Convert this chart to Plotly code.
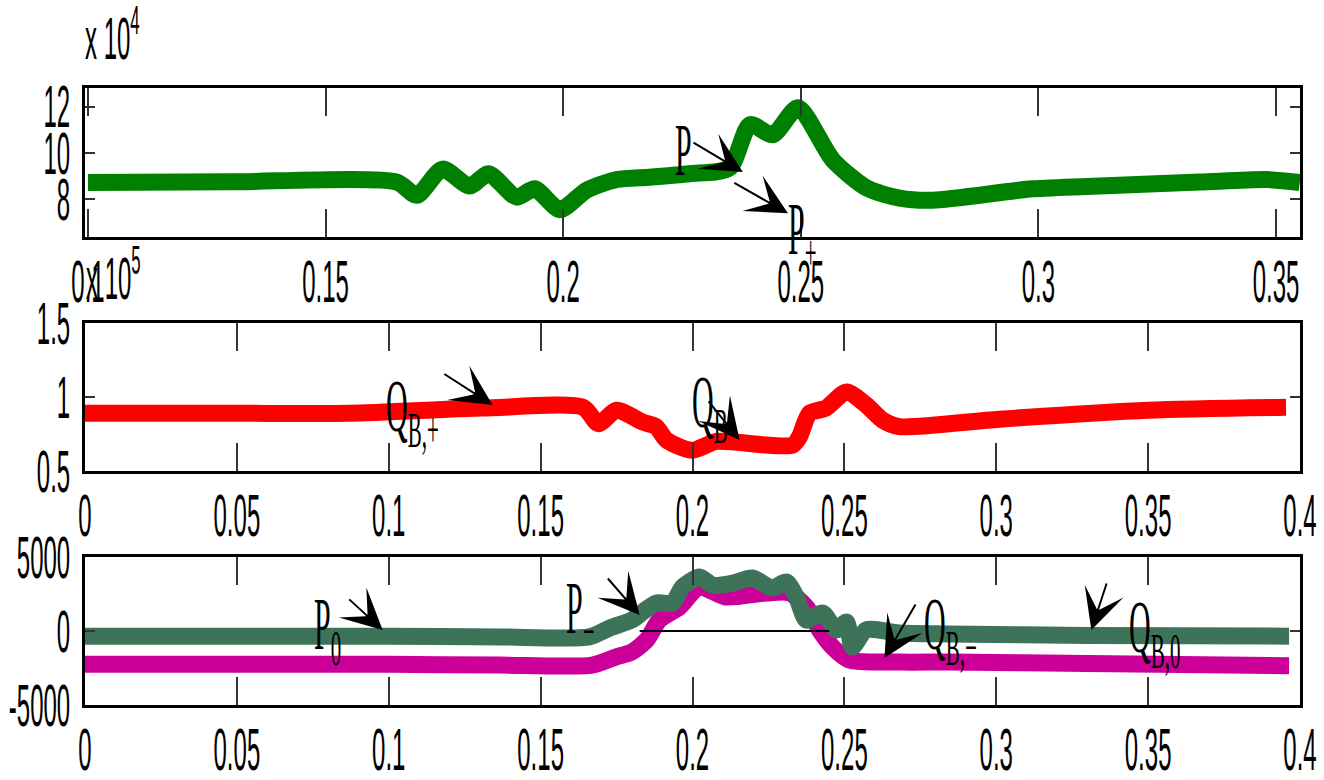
import plotly.graph_objects as go

# ---- top panel: P, in units of 1e4 ----
t_p = [0.1, 0.13, 0.165, 0.1692, 0.1746, 0.1803, 0.1843, 0.1902, 0.194, 0.1993,
       0.205, 0.2113, 0.2182, 0.2266, 0.235, 0.2393, 0.2441, 0.2494, 0.2567,
       0.2639, 0.2708, 0.2778, 0.2988, 0.3129, 0.334, 0.348, 0.355]
p_e4 = [8.72, 8.75, 8.74, 8.17, 9.30, 8.57, 9.10, 8.09, 8.45, 7.55,
        8.40, 8.85, 8.95, 9.10, 9.35, 11.22, 10.78, 11.95, 9.70,
        8.48, 8.05, 7.96, 8.45, 8.57, 8.74, 8.85, 8.72]

# ---- middle panel: Q_B, in units of 1e5 ----
t_qb = [0.0, 0.05, 0.0872, 0.131, 0.164, 0.169, 0.175, 0.1836, 0.188, 0.1914,
        0.1997, 0.208, 0.2243, 0.233, 0.2352, 0.2385, 0.244, 0.2507, 0.2572,
        0.2625, 0.268, 0.301, 0.350, 0.3954]
qb_e5 = [0.89, 0.89, 0.89, 0.925, 0.93, 0.82, 0.91, 0.83, 0.80, 0.71,
         0.64, 0.70, 0.675, 0.675, 0.73, 0.89, 0.926, 1.034, 0.946,
         0.845, 0.80, 0.85, 0.91, 0.93]

# ---- bottom panel ----
t_p0 = [0.0, 0.05, 0.10, 0.1365, 0.166, 0.1727, 0.180, 0.1836, 0.188, 0.1934,
        0.1967, 0.2023, 0.2066, 0.2132, 0.2197, 0.2263, 0.2309, 0.2342, 0.2375,
        0.2428, 0.2474, 0.2507, 0.2526, 0.2572, 0.268, 0.2845, 0.33, 0.3964]
p0 = [-350, -350, -350, -400, -400, 200, 740, 1280, 1890, 1890,
      2970, 3650, 3100, 3240, 3580, 2900, 3310, 2300, 740,
      1220, 70, 610, -1080, 70, -135, -200, -300, -350]

t_qbm = [0.0, 0.05, 0.10, 0.1365, 0.167, 0.1747, 0.180, 0.1849, 0.1891, 0.1957,
         0.2023, 0.2109, 0.2243, 0.232, 0.2375, 0.2418, 0.2461, 0.2516, 0.268,
         0.2845, 0.33, 0.3964]
qbm = [-2250, -2250, -2250, -2300, -2300, -1760, -1420, -610, 740, 1620,
       2970, 2300, 2570, 2570, 1620, 70, -1080, -1960, -2100,
       -2100, -2200, -2350]

t_zero = [0.1826, 0.245]
zero = [0, 0]

# ---- ticks ----
top_xticks = [0.1, 0.15, 0.2, 0.25, 0.3, 0.35]
top_xlabels = ["0.1", "0.15", "0.2", "0.25", "0.3", "0.35"]
low_xticks = [0, 0.05, 0.1, 0.15, 0.2, 0.25, 0.3, 0.35, 0.4]
low_xlabels = ["0", "0.05", "0.1", "0.15", "0.2", "0.25", "0.3", "0.35", "0.4"]
top_yticks = [8, 10, 12]
top_ylabels = ["8", "10", "12"]
mid_yticks = [0.5, 1, 1.5]
mid_ylabels = ["0.5", "1", "1.5"]
low_yticks = [-5000, 0, 5000]
low_ylabels = ["-5000", "0", "5000"]

W, H = 1324, 780
SANS = "Liberation Sans, Arial, sans-serif"
SERIF = "Liberation Serif, Times New Roman, serif"

fig = go.Figure()
LW = 17
SM = 0.7


def curve(x, y, color, xa, ya):
    return go.Scatter(x=x, y=y, mode="lines",
                      line=dict(color=color, width=LW, shape="spline", smoothing=SM),
                      xaxis=xa, yaxis=ya, showlegend=False)


fig.add_trace(curve(t_p, p_e4, "#008000", "x", "y"))
fig.add_trace(curve(t_qb, qb_e5, "#ff0000", "x2", "y2"))
fig.add_trace(curve(t_qbm, qbm, "#cc0099", "x3", "y3"))
fig.add_trace(curve(t_p0, p0, "#3d7459", "x3", "y3"))
fig.add_trace(go.Scatter(x=t_zero, y=zero, mode="lines", line=dict(color="black", width=2),
                         xaxis="x3", yaxis="y3", showlegend=False))

tick_font = dict(family=SANS, size=24, color="black")


def xax(domain, rng, vals, labels, anchor):
    return dict(domain=domain, range=rng, anchor=anchor, tickvals=vals, ticktext=labels,
                showline=True, linewidth=3, linecolor="black", mirror="allticks",
                ticks="inside", ticklen=28, tickwidth=1.5, tickcolor="#333",
                showgrid=False, zeroline=False, tickfont=tick_font, ticklabelstandoff=21,
                automargin=False)


def yax(domain, rng, vals, labels, anchor):
    return dict(domain=domain, range=rng, anchor=anchor, tickvals=vals, ticktext=labels,
                showline=True, linewidth=3, linecolor="black", mirror="allticks",
                ticks="inside", ticklen=10, tickwidth=1.5, tickcolor="#333",
                showgrid=False, zeroline=False, tickfont=tick_font, ticklabelstandoff=7,
                automargin=False)


xl, xr = 85 / W, 1300 / W
fig.update_layout(
    width=W, height=H, autosize=False,
    margin=dict(l=0, r=0, t=0, b=0, pad=0, autoexpand=False),
    paper_bgcolor="white", plot_bgcolor="white", showlegend=False,
    xaxis=xax([xl, xr], [0.09937, 0.35505], top_xticks, top_xlabels, "y"),
    yaxis=yax([1 - 237 / H, 1 - 88 / H], [6.37, 12.80], top_yticks, top_ylabels, "x"),
    xaxis2=xax([xl, xr], [0, 0.4], low_xticks, low_xlabels, "y2"),
    yaxis2=yax([1 - 471 / H, 1 - 323 / H], [0.5, 1.5], mid_yticks, mid_ylabels, "x2"),
    xaxis3=xax([xl, xr], [0, 0.4], low_xticks, low_xlabels, "y3"),
    yaxis3=yax([1 - 705 / H, 1 - 557 / H], [-5000, 5000], low_yticks, low_ylabels, "x3"),
)

lab_font = dict(family=SERIF, size=30, color="black")
ann = []

# axis multipliers
ann.append(dict(text="x 10<sup>4</sup>", xref="paper", yref="paper", x=83 / W, y=1 - 34 / H,
                xanchor="left", yanchor="middle", showarrow=False, font=tick_font))
ann.append(dict(text="x 10<sup>5</sup>", xref="paper", yref="paper", x=84 / W, y=1 - 274 / H,
                xanchor="left", yanchor="middle", showarrow=False, font=tick_font))

# series labels: (text, axis suffix, x, y)
labels = [
    ("P", "", 0.2254, 10.13),
    ("P<sub>+</sub>", "", 0.2504, 6.45),
    ("Q<sub>B,+</sub>", "2", 0.1079, 0.899),
    ("Q<sub>B</sub>", "2", 0.2056, 0.926),
    ("P<sub>0</sub>", "3", 0.0799, 68),
    ("P<sub>\u2212</sub>", "3", 0.1632, 1150),
    ("Q<sub>B,\u2212</sub>", "3", 0.2849, 68),
    ("Q<sub>B,0</sub>", "3", 0.352, -135),
]
for txt, s, x, y in labels:
    ann.append(dict(text=txt, xref="x" + s, yref="y" + s, x=x, y=y, xanchor="center",
                    yanchor="middle", showarrow=False, font=lab_font))

# arrows: (axis suffix, tail x, tail y, head x, head y)
arrows = [
    ("", 0.2271, 10.48, 0.2378, 9.17),
    ("", 0.2357, 8.74, 0.2473, 7.39),
    ("2", 0.1178, 1.162, 0.1342, 0.946),
    ("2", 0.2049, 0.980, 0.2155, 0.709),
    ("3", 0.0865, 2230, 0.098, 68),
    ("3", 0.1717, 3650, 0.1826, 1080),
    ("3", 0.2737, 1890, 0.2632, -1824),
    ("3", 0.3365, 3310, 0.3313, 68),
]
for s, ax_, ay_, x, y in arrows:
    ann.append(dict(text="", xref="x" + s, yref="y" + s, axref="x" + s, ayref="y" + s,
                    x=x, y=y, ax=ax_, ay=ay_, showarrow=True, arrowhead=3, arrowsize=3.4,
                    arrowwidth=2, arrowcolor="black", standoff=0, startstandoff=0))

fig.update_layout(annotations=ann)

# pin the figure to the window corner; stretch every text label vertically about its centre
stretch_js = """
var gd = document.getElementById('{plot_id}');
document.body.style.margin = '0';
gd.style.position = 'fixed';
gd.style.left = '0px';
gd.style.top = '0px';
var k = 2.45;
var sel = '.xtick text, .x2tick text, .x3tick text, .ytick text, .y2tick text, .y3tick text, .annotation-text';
gd.querySelectorAll(sel).forEach(function(el){
  var b = el.getBBox();
  if (!b.height) return;
  var cy = b.y + b.height / 2;
  var t = el.getAttribute('transform') || '';
  el.setAttribute('transform', t + ' translate(0,' + cy + ') scale(1,' + k + ') translate(0,' + (-cy) + ')');
});
"""

fig.write_html("out.html", post_script=stretch_js)
